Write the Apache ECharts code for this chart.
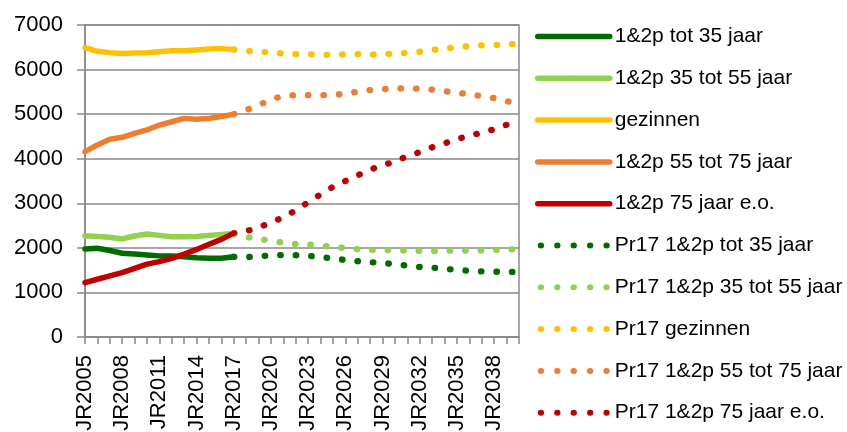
<!DOCTYPE html>
<html>
<head>
<meta charset="utf-8">
<script src="https://cdn.jsdelivr.net/npm/echarts@6/dist/echarts.min.js"></script>
<style>
  html, body { margin: 0; padding: 0; background: #fff; }
  #chart { width: 847px; height: 432px; }
</style>
</head>
<body>
<div id="chart"></div>
<script>
// years JR2005 .. JR2040
const years = []
for (let y = 2005; y <= 2040; y++) years.push('JR' + y)

// observed 2005-2017
const histTot35 = [1975, 1990, 1940, 1880, 1862, 1840, 1820, 1815, 1802, 1780, 1765, 1765, 1802]
const hist35to55 = [2270, 2255, 2240, 2200, 2265, 2310, 2280, 2250, 2250, 2255, 2280, 2300, 2320]
const histGezinnen = [6490, 6410, 6380, 6360, 6370, 6380, 6400, 6420, 6420, 6440, 6460, 6470, 6450]
const hist55to75 = [4160, 4310, 4435, 4480, 4570, 4645, 4755, 4830, 4905, 4885, 4905, 4945, 5000]
const hist75plus = [1220, 1295, 1370, 1445, 1540, 1635, 1690, 1765, 1860, 1965, 2080, 2190, 2330]

// projection Pr17, 2017-2040
const prTot35 = [1800, 1790, 1812, 1830, 1840, 1835, 1820, 1795, 1760, 1730, 1700, 1678,
  1660, 1635, 1600, 1570, 1555, 1530, 1505, 1485, 1472, 1465, 1460, 1458]
const pr35to55 = [2310, 2245, 2200, 2158, 2115, 2085, 2075, 2050, 2020, 1995, 1970, 1955,
  1952, 1948, 1942, 1935, 1925, 1933, 1942, 1940, 1945, 1952, 1965, 1970]
const prGezinnen = [6450, 6420, 6400, 6385, 6360, 6345, 6345, 6330, 6330, 6340, 6345, 6335,
  6345, 6360, 6375, 6400, 6440, 6475, 6500, 6525, 6545, 6550, 6565, 6575]
const pr55to75 = [5000, 5090, 5200, 5330, 5410, 5423, 5425, 5425, 5430, 5460, 5505, 5540,
  5560, 5578, 5578, 5570, 5550, 5515, 5480, 5445, 5405, 5360, 5290, 5230]
const pr75plus = [2330, 2375, 2460, 2565, 2690, 2840, 3025, 3200, 3370, 3500, 3628, 3755,
  3850, 3940, 4055, 4150, 4255, 4345, 4440, 4515, 4585, 4660, 4760, 4860]

const names = ['1&2p tot 35 jaar', '1&2p 35 tot 55 jaar', 'gezinnen', '1&2p 55 tot 75 jaar', '1&2p 75 jaar e.o.']
const colors = ['#006c00', '#92d050', '#ffc000', '#ed7d31', '#c00000']
const hist = [histTot35, hist35to55, histGezinnen, hist55to75, hist75plus]
const proj = [prTot35, pr35to55, prGezinnen, pr55to75, pr75plus]

const projStart = years.length - prTot35.length
const font = "'Liberation Sans', Arial, sans-serif"
const axisGray = '#898989'

// five round dots for the legend of the dotted series
let dotPath = 'path://'
for (let k = 0; k < 5; k++) {
  const cx = 3 + k * 15.5
  dotPath += `M${cx - 3},3a3,3 0 1,0 6,0a3,3 0 1,0 -6,0Z`
}

const series = []
const legendData = []
hist.forEach((d, i) => {
  series.push({
    name: names[i],
    type: 'line',
    data: d,
    symbol: 'none',
    silent: true,
    lineStyle: { color: colors[i], width: 5.5, cap: 'round', join: 'round' },
    itemStyle: { color: colors[i] },
    z: 3
  })
  legendData.push({ name: names[i] })
})
proj.forEach((d, i) => {
  series.push({
    name: 'Pr17 ' + names[i],
    type: 'line',
    data: new Array(projStart).fill(null).concat(d),
    symbol: 'none',
    silent: true,
    lineStyle: { color: colors[i], width: 6.3, cap: 'round', type: [0.5, 15] },
    itemStyle: { color: colors[i] },
    z: 2
  })
  legendData.push({ name: 'Pr17 ' + names[i], icon: dotPath, itemStyle: { color: colors[i], borderWidth: 0 } })
})

const chart = echarts.init(document.getElementById('chart'))
chart.setOption({
  animation: false,
  color: colors,
  textStyle: { fontFamily: font },
  grid: {
    left: 85, right: 328, top: 25, bottom: 95,
    outerBoundsMode: 'none',
    containLabel: false,
    show: true, borderColor: axisGray, borderWidth: 1.5
  },
  legend: {
    orient: 'vertical',
    left: 535,
    top: 26,
    padding: 0,
    itemWidth: 72,
    itemHeight: 6,
    itemGap: 20.8,
    symbolKeepAspect: false,
    lineStyle: { width: 5.5 },
    textStyle: { fontSize: 21, color: '#000', fontFamily: font },
    data: legendData
  },
  xAxis: {
    type: 'category',
    data: years,
    boundaryGap: false,
    axisLine: { lineStyle: { color: axisGray, width: 1.5 } },
    axisTick: { show: true, interval: 0, length: 7, lineStyle: { color: axisGray, width: 1.5 } },
    axisLabel: { interval: 2, rotate: 90, margin: 18, fontSize: 22, color: '#000', fontFamily: font },
    splitLine: { show: false }
  },
  yAxis: {
    type: 'value',
    min: 0,
    max: 7000,
    interval: 1000,
    axisLine: { show: true, lineStyle: { color: axisGray, width: 1.5 } },
    axisTick: { show: true, length: 8, lineStyle: { color: axisGray, width: 1.5 } },
    axisLabel: { margin: 22, fontSize: 22, color: '#000', fontFamily: font, formatter: v => String(v) },
    splitLine: { lineStyle: { color: axisGray, width: 1.5 } }
  },
  series: series
})
</script>
</body>
</html>
